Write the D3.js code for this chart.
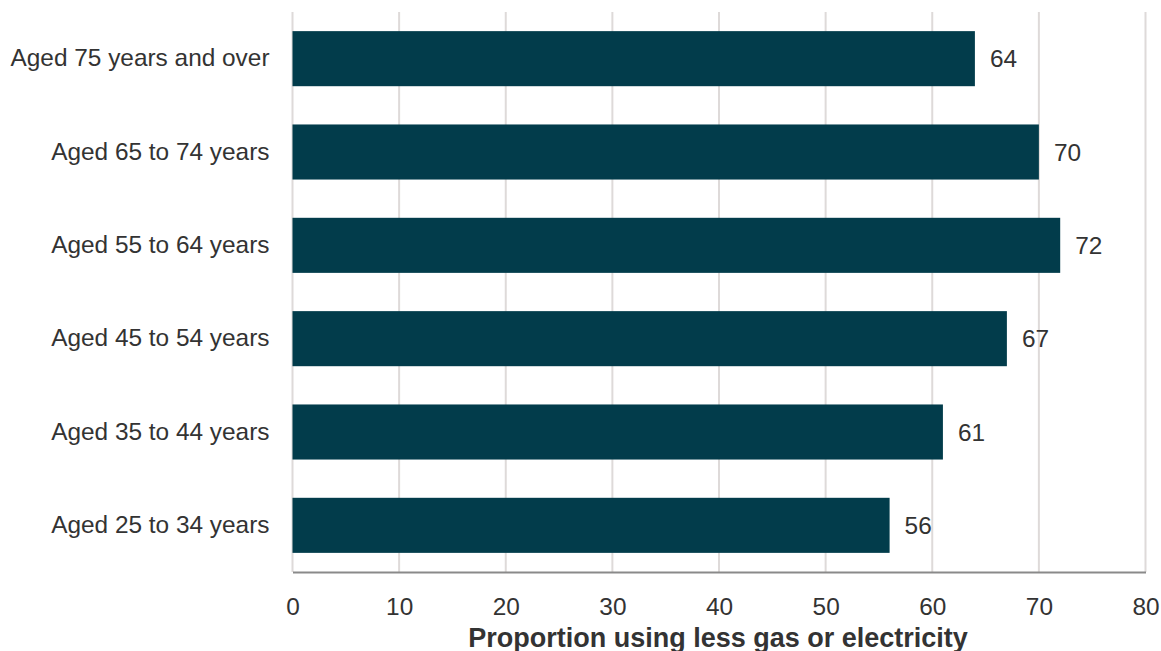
<!DOCTYPE html>
<html>
<head>
<meta charset="utf-8">
<script src="https://cdn.jsdelivr.net/npm/d3@7"></script>
<style>
  html, body { margin: 0; padding: 0; background: #fff; }
  svg { display: block; font-family: "Liberation Sans", Arial, sans-serif; }
</style>
</head>
<body>
<svg id="chart" width="1161" height="651"></svg>
<script>
const categories = [
  "Aged 75 years and over",
  "Aged 65 to 74 years",
  "Aged 55 to 64 years",
  "Aged 45 to 54 years",
  "Aged 35 to 44 years",
  "Aged 25 to 34 years"
];
const values = [64, 70, 72, 67, 61, 56];
const xTicks = [0, 10, 20, 30, 40, 50, 60, 70, 80];
const xTitle = "Proportion using less gas or electricity";

const svg = d3.select("#chart");
const mLeft = 292.5, mRight = 1145.5, mTop = 12, mBottom = 572;
const fs = 24.4;

const x = d3.scaleLinear().domain([0, 80]).range([mLeft, mRight]);
const y = d3.scaleBand().domain(categories).range([mTop, mBottom])
  .paddingInner(0.41).paddingOuter(0.205);

// gridlines
svg.append("g").selectAll("line").data(xTicks).join("line")
  .attr("x1", d => x(d)).attr("x2", d => x(d))
  .attr("y1", mTop).attr("y2", mBottom)
  .attr("stroke", "#dedad9").attr("stroke-width", 2);

// bars
svg.append("g").selectAll("rect").data(values).join("rect")
  .attr("x", x(0))
  .attr("y", (d, i) => y(categories[i]))
  .attr("width", d => x(d) - x(0))
  .attr("height", y.bandwidth())
  .attr("fill", "#023c4b");

// value labels
svg.append("g").selectAll("text").data(values).join("text")
  .attr("x", d => x(d) + 15)
  .attr("y", (d, i) => y(categories[i]) + y.bandwidth() / 2)
  .attr("dy", "0.35em")
  .attr("font-size", fs)
  .attr("fill", "#333")
  .text(d => d);

// x axis
const xAxis = d3.axisBottom(x).tickValues(xTicks).tickSize(0).tickPadding(26);
const gx = svg.append("g").attr("transform", `translate(0,${mBottom})`).call(xAxis);
gx.select(".domain").attr("stroke", "#8a8a8a").attr("stroke-width", 2);
gx.selectAll("text").attr("font-size", fs).attr("fill", "#333")
  .attr("font-family", "'Liberation Sans', Arial, sans-serif");

// y axis
const yAxis = d3.axisLeft(y).tickSize(0).tickPadding(23);
const gy = svg.append("g").attr("transform", `translate(${mLeft},0)`).call(yAxis);
gy.select(".domain").remove();
gy.selectAll("text").attr("font-size", fs).attr("fill", "#333")
  .attr("font-family", "'Liberation Sans', Arial, sans-serif");

// axis title
svg.append("text")
  .attr("x", (mLeft + mRight) / 2 - 1)
  .attr("y", 647)
  .attr("text-anchor", "middle")
  .attr("font-size", 27)
  .attr("font-weight", "bold")
  .attr("fill", "#333")
  .text(xTitle);
</script>
</body>
</html>
